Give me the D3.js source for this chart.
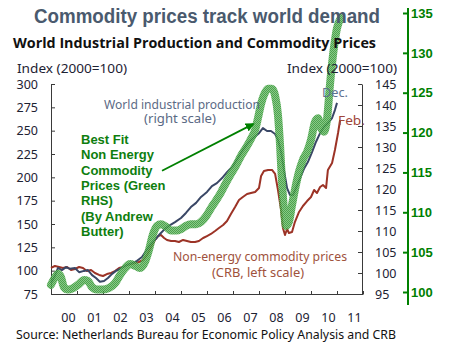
<!DOCTYPE html>
<html><head><meta charset="utf-8">
<script src="https://cdn.jsdelivr.net/npm/d3@7"></script>
<style>body{margin:0;background:#fff}svg{display:block}</style>
</head><body><svg id="c" width="458" height="356"></svg>
<script>
const yearTicks = [2000,2001,2002,2003,2004,2005,2006,2007,2008,2009,2010,2011,2012];
const yearLabels = ["00","01","02","03","04","05","06","07","08","09","10","11"];
const leftTicks = [75,100,125,150,175,200,225,250,275,300];
const rightTicks = [95,100,105,110,115,120,125,130,135,140,145];
const greenTicks = [100,105,110,115,120,125,130,135];

// World industrial production (right scale)
const ipYears = [2000.00,2000.15,2000.27,2000.42,2000.58,2000.73,2000.92,2001.08,2001.27,2001.42,2001.58,2001.73,2001.88,2002.04,2002.19,2002.35,2002.50,2002.65,2002.85,2003.00,2003.15,2003.31,2003.50,2003.65,2003.81,2004.00,2004.19,2004.38,2004.58,2004.77,2005.00,2005.19,2005.38,2005.58,2005.77,2006.00,2006.19,2006.38,2006.58,2006.77,2007.00,2007.19,2007.38,2007.58,2007.77,2008.00,2008.15,2008.31,2008.46,2008.62,2008.73,2008.85,2008.96,2009.08,2009.19,2009.31,2009.42,2009.58,2009.73,2009.88,2010.04,2010.19,2010.35,2010.50,2010.65,2010.81,2010.92,2011.00];
const ipValues = [97.6,99.3,101.2,100.7,101.4,101.0,101.2,100.2,100.5,100.7,99.5,98.8,97.9,98.1,98.8,99.8,100.5,101.0,101.7,102.1,102.4,102.9,103.8,105.2,106.7,107.9,109.3,110.5,111.4,112.1,113.1,114.3,115.7,116.7,118.1,119.3,120.7,121.4,122.6,124.0,125.5,127.4,129.3,131.0,132.1,133.3,134.5,133.8,133.8,133.1,131.7,128.8,124.5,120.2,118.6,118.6,120.2,122.6,124.8,126.4,128.8,131.2,133.3,134.8,135.7,136.9,138.8,140.5];

// Non-energy commodity prices (CRB, left scale)
const crbYears = [2000.00,2000.15,2000.31,2000.46,2000.62,2000.77,2000.92,2001.08,2001.23,2001.38,2001.54,2001.69,2001.85,2002.00,2002.15,2002.31,2002.46,2002.62,2002.77,2002.92,2003.08,2003.23,2003.38,2003.54,2003.69,2003.85,2004.00,2004.12,2004.23,2004.35,2004.46,2004.62,2004.77,2004.92,2005.08,2005.23,2005.38,2005.54,2005.69,2005.85,2006.00,2006.15,2006.31,2006.46,2006.62,2006.77,2006.92,2007.08,2007.23,2007.38,2007.54,2007.69,2007.85,2008.00,2008.08,2008.19,2008.35,2008.50,2008.62,2008.73,2008.85,2008.92,2009.00,2009.08,2009.15,2009.27,2009.38,2009.54,2009.69,2009.85,2010.00,2010.12,2010.23,2010.35,2010.46,2010.58,2010.65,2010.81,2010.92,2011.04,2011.12];
const crbValues = [102.9,105.0,103.9,102.9,103.9,100.7,101.8,103.9,102.9,99.6,100.7,97.5,95.4,94.3,96.4,97.5,99.6,102.9,103.9,106.1,107.1,108.2,109.3,111.4,116.8,125.4,132.9,137.1,138.2,135.0,132.9,131.8,131.8,130.7,132.9,131.8,130.7,130.7,131.8,135.0,137.1,139.3,142.5,145.7,148.9,153.2,160.7,168.2,175.7,178.9,182.1,183.2,184.3,188.6,201.4,206.8,207.9,207.9,203.6,186.4,165.0,145.7,138.2,144.6,140.4,141.4,152.1,162.9,169.3,174.6,178.9,186.4,183.2,189.6,191.8,188.6,207.9,215.4,229.3,247.5,261.4];

// Best fit non-energy commodity prices (green RHS)
const fitYears = [2000.00,2000.15,2000.27,2000.38,2000.50,2000.65,2000.85,2001.08,2001.27,2001.42,2001.58,2001.77,2002.00,2002.23,2002.46,2002.65,2002.85,2003.04,2003.23,2003.42,2003.62,2003.77,2003.92,2004.08,2004.23,2004.42,2004.62,2004.81,2005.00,2005.19,2005.38,2005.58,2005.77,2005.96,2006.15,2006.35,2006.54,2006.73,2006.92,2007.12,2007.31,2007.50,2007.69,2007.85,2007.96,2008.08,2008.19,2008.35,2008.50,2008.62,2008.73,2008.81,2008.88,2008.96,2009.04,2009.15,2009.27,2009.38,2009.54,2009.69,2009.85,2010.00,2010.15,2010.27,2010.38,2010.50,2010.62,2010.73,2010.88,2011.00,2011.15];
const fitValues = [100.9,101.8,102.3,101.9,100.6,100.3,100.5,101.0,101.5,101.4,100.6,100.3,100.3,100.5,101.1,102.1,103.0,103.5,103.3,103.0,103.8,105.3,107.2,108.3,108.5,108.2,107.7,107.7,107.9,108.3,108.5,108.5,108.8,109.5,110.5,111.5,112.5,113.7,114.8,115.9,117.1,118.1,119.2,120.3,121.8,123.6,124.7,125.5,125.5,124.6,122.2,118.4,114.1,110.3,108.3,108.8,110.9,112.8,115.1,116.6,117.6,119.1,121.3,121.8,120.6,120.1,121.8,126.0,130.6,133.1,134.4];

const greenLines = ["Best Fit","Non Energy","Commodity","Prices (Green","RHS)","(By Andrew","Butter)"];

const svg = d3.select("#c");
const x = d3.scaleLinear().domain([2000,2012]).range([51,363]);
const yL = d3.scaleLinear().domain([75,300]).range([294,84]);
const yR = d3.scaleLinear().domain([95,145]).range([294,84]);
const yG = d3.scaleLinear().domain([100,135]).range([292,13]);

const tickFont = "'Noto Sans', sans-serif";
const axisColor = "#3a3a3a";
const labelColor = "#1d2233";

// pattern for green band
const defs = svg.append("defs");
const pat = defs.append("pattern").attr("id","chk").attr("patternUnits","userSpaceOnUse")
  .attr("width",2).attr("height",2);
pat.append("rect").attr("width",2).attr("height",2).attr("fill","#72c272");
pat.append("rect").attr("x",0).attr("y",0).attr("width",1).attr("height",1).attr("fill","#2f8f2f");
pat.append("rect").attr("x",1).attr("y",1).attr("width",1).attr("height",1).attr("fill","#2f8f2f");
defs.append("marker").attr("id","arr").attr("viewBox","0 0 10 10").attr("refX",8).attr("refY",5)
  .attr("markerWidth",5).attr("markerHeight",5).attr("orient","auto")
  .append("path").attr("d","M0,0L10,5L0,10z").attr("fill","#008000");

function styleAxis(g){
  g.selectAll("path,line").attr("stroke",axisColor);
  g.selectAll("text").attr("font-family",tickFont).attr("font-size",12.5).attr("fill",labelColor);
}

// left axis
svg.append("g").attr("transform","translate(51,0)")
  .call(d3.axisLeft(yL).tickValues(leftTicks).tickSize(-4).tickSizeOuter(0).tickPadding(13))
  .call(styleAxis);
// right inner axis
svg.append("g").attr("transform","translate(362,0)")
  .call(d3.axisRight(yR).tickValues(rightTicks).tickSize(-4).tickSizeOuter(0).tickPadding(13))
  .call(styleAxis);
// bottom axis ticks
svg.append("g").attr("transform","translate(0,294)")
  .call(d3.axisBottom(x).tickValues(yearTicks).tickSize(-3).tickSizeOuter(0).tickFormat(""))
  .call(styleAxis);
// bottom labels
svg.append("g").attr("transform","translate(0,294)")
  .call(d3.axisBottom(x).tickValues(yearLabels.map((d,i)=>2000+i+0.65)).tickSize(0).tickPadding(19)
    .tickFormat((d,i)=>yearLabels[i]))
  .call(g=>g.select(".domain").remove())
  .call(styleAxis);

// green axis
const gAx = svg.append("g").attr("transform","translate(408,0)")
  .call(d3.axisRight(yG).tickValues(greenTicks).tickSize(-5).tickPadding(3).tickSizeOuter(0));
gAx.select(".domain").remove();
gAx.selectAll("line").attr("stroke","#008000").attr("stroke-width",2);
gAx.selectAll("text").attr("font-family","'Liberation Sans', Arial, sans-serif").attr("font-weight","bold")
  .attr("font-size",13).attr("fill","#008000");
gAx.append("line").attr("x1",0).attr("x2",0).attr("y1",8).attr("y2",305).attr("stroke","#008000").attr("stroke-width",2);

// lines
const ipData = ipYears.map((t,i)=>[t,ipValues[i]]);
const crbData = crbYears.map((t,i)=>[t,crbValues[i]]);
const fitData = fitYears.map((t,i)=>[t,fitValues[i]]);

svg.append("path").datum(crbData)
  .attr("d",d3.line().x(d=>x(d[0])).y(d=>yL(d[1])))
  .attr("fill","none").attr("stroke","#9c3326").attr("stroke-width",2).attr("stroke-linejoin","round");
svg.append("path").datum(ipData)
  .attr("d",d3.line().x(d=>x(d[0])).y(d=>yR(d[1])))
  .attr("fill","none").attr("stroke","#3a4766").attr("stroke-width",2).attr("stroke-linejoin","round");
svg.append("path").datum(fitData)
  .attr("d",d3.line().curve(d3.curveMonotoneX).x(d=>x(d[0])).y(d=>yG(d[1])))
  .attr("fill","none").attr("stroke","url(#chk)").attr("stroke-width",8).attr("stroke-opacity",0.85)
  .attr("stroke-linecap","round").attr("stroke-linejoin","round");

// texts
function txt(s, xx, yy, opts){
  const t = svg.append("text").attr("x",xx).attr("y",yy).text(s)
    .attr("font-family",opts.font||tickFont).attr("font-size",opts.size||13)
    .attr("fill",opts.fill||labelColor);
  if(opts.bold) t.attr("font-weight","bold");
  if(opts.len) t.attr("textLength",opts.len).attr("lengthAdjust","spacingAndGlyphs");
  if(opts.anchor) t.attr("text-anchor",opts.anchor);
  return t;
}
txt("Commodity prices track world demand",34,23,{font:"'Liberation Sans', Arial, sans-serif",size:20,bold:true,fill:"#4a5a6e",len:346});
txt("World Industrial Production and Commodity Prices",13,48,{font:"'Open Sans', sans-serif",size:14,bold:true,fill:"#111",len:363});
txt("Index (2000=100)",17,73,{size:12.5,len:110});
txt("Index (2000=100)",287,73,{size:12.5,len:110});
txt("World industrial production",104,109,{size:13,fill:"#5b6a85",len:156});
txt("(right scale)",144,123,{size:13,fill:"#5b6a85",len:72});
txt("Dec.",322,97,{size:13,fill:"#5f7391",len:26});
txt("Feb.",338,125,{size:13,fill:"#a0463a",len:27});
txt("Non-energy commodity prices",173,261,{size:13,fill:"#a0523c",len:174});
txt("(CRB, left scale)",212,277,{size:13,fill:"#a0523c",len:92});
txt("Source: Netherlands Bureau for Economic Policy Analysis and CRB",16,339,{size:13,fill:"#111",len:380});
greenLines.forEach((s,i)=>txt(s,81,144+i*15.3,{font:"'Liberation Sans', Arial, sans-serif",size:13,bold:true,fill:"#0e7e0e"}));

// arrow
svg.append("line").attr("x1",x(2004.27)).attr("y1",yL(207)).attr("x2",x(2007.77)).attr("y2",yL(257))
  .attr("stroke","#008000").attr("stroke-width",1.8).attr("marker-end","url(#arr)");
</script></body></html>
